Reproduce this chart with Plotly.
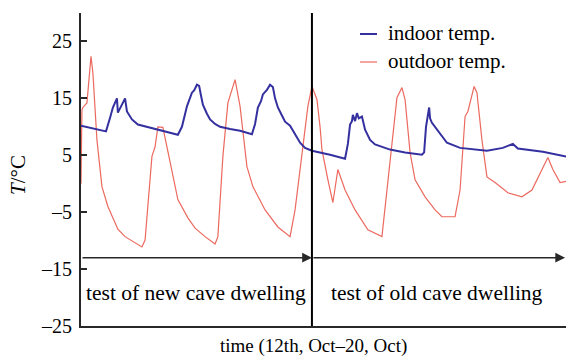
import plotly.graph_objects as go

# time in hours from start of test (12th Oct), temperatures in °C
indoor_t = [0, 8, 9.3, 10.2, 11.5, 11.8, 13.1, 14.1, 14.7, 16.3, 18.2, 24.6, 31, 32.3, 33.9, 35.5,
            36.2, 37.1, 37.8, 38.4, 39, 40.3, 41.3, 42.9, 44.5, 47.7, 50.9, 54.7, 55.7, 56.6, 57.6,
            58.2, 59.5, 60.5, 61.4, 62.1, 63, 64.3, 65.3, 66.9, 68.5, 70.1, 71.7, 73.9, 79.7, 84.5,
            85.4, 86.1, 86.7, 87, 87.7, 88.3, 88.9, 89.9, 90.9, 92.5, 94.1, 98.9, 103.7, 109.1,
            109.8, 110.4, 111.4, 111.7, 112.3, 113.3, 114.2, 117.1, 121.3, 129.9, 135, 138.2,
            139.8, 147.8, 155.2]
indoor_v = [10.2, 9.2, 11.6, 13.4, 15, 12.5, 13.9, 15, 12.7, 11.3, 10.4, 9.5, 8.6, 10, 13.6, 16,
            16.4, 17.4, 17.2, 15.5, 13.9, 12.3, 11.3, 10.5, 10, 9.6, 9.3, 8.7, 10.5, 13.4, 14.5,
            15.7, 16.5, 17.4, 17, 15, 13.4, 12, 10.9, 10.2, 8.6, 7.2, 6.3, 5.8, 5.1, 4.4,
            7, 10.4, 11, 12.1, 11, 12.4, 11.5, 11.8, 9.5, 7.7, 6.9, 6, 5.5, 5.1,
            5.5, 10, 13.4, 11.5, 10.7, 10, 9.2, 7.2, 6.3, 5.8, 6.3, 7,
            6.2, 5.6, 4.8]

outdoor_t = [0, 0.3, 0.6, 1.9, 3.2, 3.8, 5.1, 6.7, 8.6, 11.8, 14.1, 17.3, 19.5, 20.5, 21.4, 22.7,
             23.7, 24.6, 26.2, 27.5, 29.1, 31, 34.2, 36.5, 39.7, 42.9, 43.8, 45.4, 47, 49.3, 50.9,
             53.1, 55, 58.9, 63, 66.9, 68.5, 70.7, 72.6, 73.9, 75.5, 76.5, 77.1, 79, 80.6, 82.2,
             84.5, 87.7, 91.8, 96.3, 97.9, 99.5, 101.1, 102.7, 103.7, 105.3, 106.9, 110.1, 113.3,
             115.5, 119.7, 121.3, 122.9, 123.8, 125.8, 126.7, 128.3, 129.9, 132.5, 136.6, 141.1,
             144.3, 146.9, 149.4, 151, 153.3, 155.2]
outdoor_v = [0, 13, 13.4, 14.2, 22.4, 19.5, 7.7, -0.5, -4, -8, -9.3, -10.4, -11.1, -9.9, -4, 4.8,
             6.5, 10, 9.9, 6.5, 1.9, -2.8, -6, -7.8, -9.3, -10.6, -9.3, 4.8, 14.2, 18.3, 13.6,
             3, -0.5, -4.6, -7.6, -9.3, -4.6, 4.8, 13.6, 17.1, 14.8, 10, 6, 0.7, -3.3, 2.5,
             -1.1, -4.6, -8.1, -9.3, -1.1, 7.7, 15.1, 16.9, 14.8, 5.5, 0.7, -2.3, -4.6,
             -5.8, -5.8, -1.1, 11.8, 12.7, 17.1, 16, 7.7, 1.2, 0.2, -1.6, -2.3,
             -1.1, 1.9, 4.6, 2.5, 0.2, 0.4]

y_ticks = [-25, -15, -5, 5, 15, 25]
y_tick_text = ["–25", "–15", "–5", "5", "15", "25"]

split_t = 73.9       # switch from new to old cave dwelling
arrow_level = -13
t_end = 155.2

BLUE = "rgb(52,48,160)"
RED = "rgb(236,105,95)"
SERIF = "Liberation Serif"
DARK = "rgb(40,40,40)"

fig = go.Figure()
fig.add_trace(go.Scatter(x=outdoor_t, y=outdoor_v, mode="lines", name="outdoor temp.",
                         line=dict(color=RED, width=1.2)))
fig.add_trace(go.Scatter(x=indoor_t, y=indoor_v, mode="lines", name="indoor temp.",
                         line=dict(color=BLUE, width=2)))

# vertical divider
fig.add_shape(type="line", xref="x", yref="paper", x0=split_t, x1=split_t, y0=0, y1=1,
              line=dict(color="black", width=2))

# horizontal arrows
for x0, x1 in [(0, split_t), (split_t, t_end - 0.3)]:
    fig.add_annotation(x=x1, y=arrow_level, ax=x0, ay=arrow_level, xref="x", yref="y",
                       axref="x", ayref="y", text="", showarrow=True, arrowhead=2,
                       arrowsize=1.3, arrowwidth=1.5, arrowcolor=DARK)

fig.add_annotation(x=36.8, y=-19.2, xref="x", yref="y", text="test of new cave dwelling",
                   showarrow=False, xanchor="center", yanchor="middle",
                   font=dict(family=SERIF, size=21.5, color="black"))
fig.add_annotation(x=113.8, y=-19.2, xref="x", yref="y", text="test of old cave dwelling",
                   showarrow=False, xanchor="center", yanchor="middle",
                   font=dict(family=SERIF, size=21.5, color="black"))

# legend (drawn manually)
def px_x(p):
    return (p - 81) / 485
def px_y(p):
    return (326 - p) / 313

for name, col, ypix, w in [("indoor temp.", BLUE, 34, 2), ("outdoor temp.", RED, 62, 1.2)]:
    fig.add_shape(type="line", xref="paper", yref="paper", x0=px_x(360), x1=px_x(377),
                  y0=px_y(ypix), y1=px_y(ypix), line=dict(color=col, width=w))
    fig.add_annotation(x=px_x(386), y=px_y(ypix - 1), xref="paper", yref="paper", text=name,
                       showarrow=False, xanchor="left", yanchor="middle",
                       font=dict(family=SERIF, size=21, color="black"))

# axis titles
fig.add_annotation(x=px_x(313), y=px_y(346), xref="paper", yref="paper",
                   text="time (12th, Oct–20, Oct)", showarrow=False,
                   xanchor="center", yanchor="middle",
                   font=dict(family=SERIF, size=19, color="black"))
fig.add_annotation(x=px_x(18), y=px_y(175), xref="paper", yref="paper",
                   text="<i>T</i>/°C", textangle=-90, showarrow=False,
                   xanchor="center", yanchor="middle",
                   font=dict(family=SERIF, size=21, color="black"))

fig.update_xaxes(range=[0, t_end], showgrid=False, zeroline=False, showticklabels=False,
                 ticks="", showline=True, linecolor=DARK, linewidth=2)
fig.update_yaxes(range=[-25, 30], tickvals=y_ticks, ticktext=y_tick_text, showgrid=False,
                 zeroline=False, ticks="inside", ticklen=6, tickwidth=1.5, tickcolor=DARK,
                 showline=True, linecolor=DARK, linewidth=2, ticklabelstandoff=3,
                 tickfont=dict(family=SERIF, size=20, color="black"))

fig.update_layout(width=566, height=357, margin=dict(l=81, r=0, t=13, b=31),
                  plot_bgcolor="white", paper_bgcolor="white", showlegend=False)

fig.write_html("out.html", config={"displayModeBar": False},
               post_script="document.body.style.margin='0';")
